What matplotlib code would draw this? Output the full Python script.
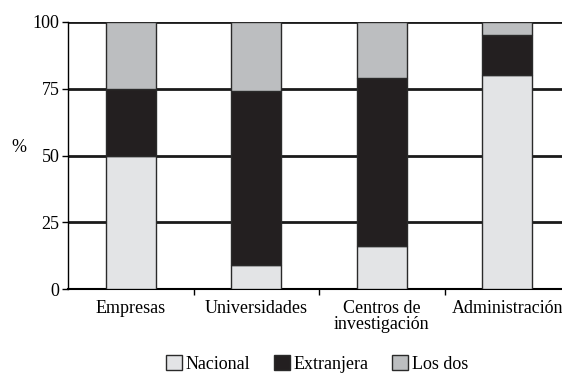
import numpy as np
import matplotlib.pyplot as plt
from matplotlib.patches import Patch

plt.rcParams['font.family'] = ['Liberation Serif', 'DejaVu Serif']

# -----------------------------
# DATA
# -----------------------------
categories = ["Empresas", "Universidades", "Centros de\ninvestigación", "Administración"]
nacional = [50, 9, 16, 80]
extranjera = [25, 65, 63, 15]
los_dos = [25, 26, 21, 5]
series_labels = ["Nacional", "Extranjera", "Los dos"]
yticks = [0, 25, 50, 75, 100]

colors = ["#e3e4e6", "#231f20", "#bcbec0"]
edge = "#2a2a2a"

# -----------------------------
# PLOT
# -----------------------------
fig = plt.figure(figsize=(5.62, 3.74), dpi=100)
W, H = 562, 374
# axes from x=68 to 570 (slightly past the right edge), y=22 to 289
ax = fig.add_axes([68 / W, 1 - 289 / H, (570 - 68) / W, (289 - 22) / H])

x = np.arange(len(categories))
ax.bar(x, nacional, width=0.4, color=colors[0], edgecolor=edge, linewidth=1, zorder=3)
ax.bar(x, extranjera, width=0.4, bottom=nacional, color=colors[1], edgecolor=edge,
       linewidth=1, zorder=3)
bottom2 = np.array(nacional) + np.array(extranjera)
ax.bar(x, los_dos, width=0.4, bottom=bottom2, color=colors[2], edgecolor=edge,
       linewidth=1, zorder=3)

ax.set_xlim(-0.5, len(categories) - 0.5)
ax.set_ylim(0, 100)
ax.set_yticks(yticks)
ax.tick_params(axis='y', labelsize=13, length=4, width=1, direction='out', pad=2)

# category labels between boundary ticks
ax.set_xticks(x[:-1] + 0.5)
ax.set_xticklabels([])
ax.tick_params(axis='x', length=4, width=1, direction='out')
for xi, lab in zip(x, categories):
    ax.text(xi, -4.2, lab, ha='center', va='top', fontsize=13, linespacing=0.92,
            transform=ax.transData)

for yv in yticks[1:]:
    ax.axhline(yv, color="#1a1a1a", linewidth=2, zorder=1)

for s in ["top", "right"]:
    ax.spines[s].set_visible(False)
ax.spines["left"].set_linewidth(1)
ax.spines["bottom"].set_linewidth(1.5)

fig.text(19 / W, 1 - 148 / H, "%", ha='center', va='center', fontsize=13)

handles = [Patch(facecolor=c, edgecolor=edge, linewidth=1) for c in colors]
fig.legend(handles, series_labels, loc='center', bbox_to_anchor=(317 / W, 1 - 364 / H),
           ncol=3, frameon=False, fontsize=13, handlelength=0.9, handleheight=0.9,
           handletextpad=0.2, columnspacing=1.3, borderaxespad=0, borderpad=0)

fig.savefig("out.png", dpi=100)
